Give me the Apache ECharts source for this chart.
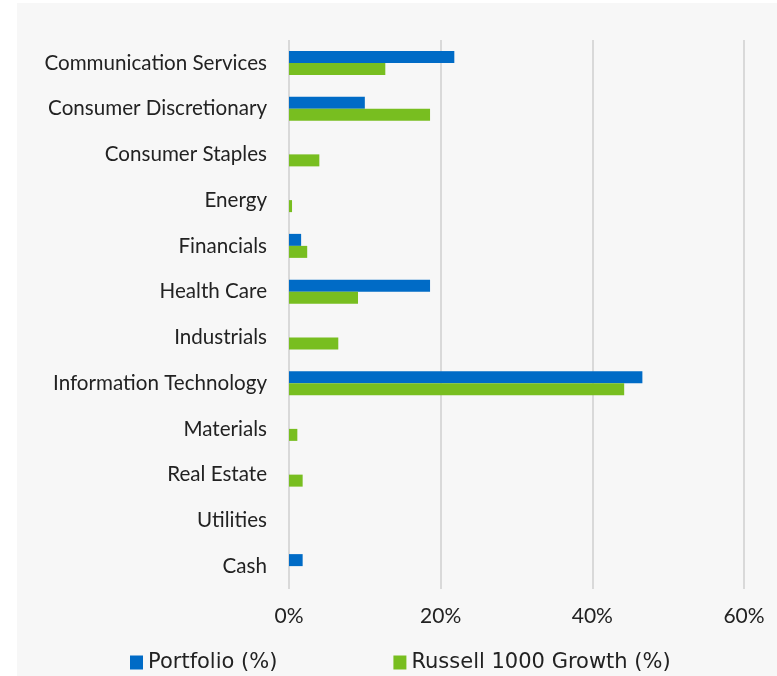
<!DOCTYPE html>
<html>
<head>
<meta charset="utf-8">
<script src="https://cdn.jsdelivr.net/npm/echarts@6/dist/echarts.min.js"></script>
<style>
  html, body { margin: 0; padding: 0; background: #ffffff; }
  #main { width: 777px; height: 676px; }
</style>
</head>
<body>
<div id="main"></div>
<script>
const sectors = ['Communication Services', 'Consumer Discretionary', 'Consumer Staples', 'Energy',
  'Financials', 'Health Care', 'Industrials', 'Information Technology', 'Materials',
  'Real Estate', 'Utilities', 'Cash'];
const portfolio = [21.8, 10.0, 0, 0, 1.6, 18.6, 0, 46.6, 0, 0, 0, 1.8];
const russell = [12.7, 18.6, 4.0, 0.4, 2.4, 9.1, 6.5, 44.2, 1.1, 1.8, 0, 0];
const xTicks = [0, 20, 40, 60];

var chartDom = document.getElementById('main');
var myChart = echarts.init(chartDom);
var font = 'Lato, sans-serif';

var option = {
  animation: false,
  graphic: [
    { type: 'rect', z: -10, shape: { x: 17, y: 3, width: 760, height: 673 }, style: { fill: '#f7f7f7' } }
  ],
  grid: { left: 289, right: 33, top: 40, bottom: 87, containLabel: false },
  legend: {
    left: 125, top: 647,
    itemWidth: 13, itemHeight: 14, itemGap: 116,
    icon: 'rect',
    textStyle: { fontFamily: '"DejaVu Sans", sans-serif', fontSize: 21, color: '#222' },
    data: ['Portfolio (%)', 'Russell 1000 Growth (%)']
  },
  xAxis: {
    type: 'value',
    min: xTicks[0], max: xTicks[xTicks.length - 1], interval: 20,
    axisLine: { show: false },
    axisTick: { show: false },
    splitLine: { lineStyle: { color: '#d9d9d9', width: 2 } },
    axisLabel: { formatter: '{value}%', fontFamily: font, fontSize: 21, color: '#222', margin: 17 }
  },
  yAxis: {
    type: 'category',
    inverse: true,
    data: sectors,
    axisLine: { show: false },
    axisTick: { show: false },
    axisLabel: { fontFamily: font, fontSize: 20.6, color: '#222', margin: 22 }
  },
  series: [
    {
      name: 'Portfolio (%)', type: 'bar', data: portfolio,
      barWidth: 12, barGap: '0%',
      itemStyle: { color: '#006bc6' }
    },
    {
      name: 'Russell 1000 Growth (%)', type: 'bar', data: russell,
      barWidth: 12,
      itemStyle: { color: '#78be20' }
    }
  ]
};

option && myChart.setOption(option);
</script>
</body>
</html>
